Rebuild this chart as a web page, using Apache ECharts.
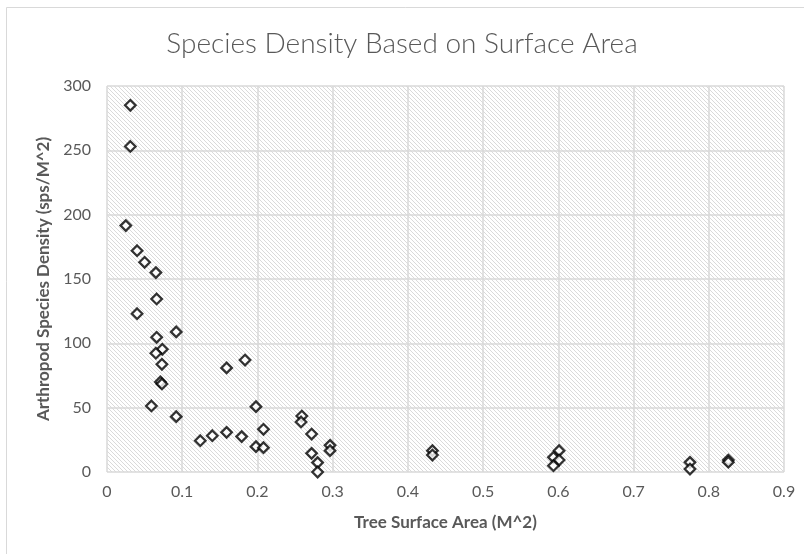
<!DOCTYPE html>
<html>
<head>
<meta charset="utf-8">
<script src="https://cdn.jsdelivr.net/npm/echarts@6/dist/echarts.min.js"></script>
<style>html,body{margin:0;padding:0;background:#fff;}#c{width:804px;height:554px;}</style>
</head>
<body>
<div id="c"></div>
<script>
const titleText = 'Species Density Based on Surface Area';
const xAxisName = 'Tree Surface Area (M^2)';
const yAxisName = 'Arthropod Species Density (sps/M^2)';
const surfaceArea = [0.031,0.031,0.025,0.040,0.050,0.065,0.066,0.040,0.066,0.092,0.0735,0.065,0.073,0.071,0.073,0.059,0.092,0.124,0.140,0.159,0.159,0.1835,0.179,0.198,0.208,0.198,0.208,0.259,0.258,0.272,0.272,0.280,0.280,0.2965,0.2965,0.4326,0.4326,0.601,0.5935,0.601,0.5935,0.775,0.775,0.826,0.826];
const speciesDensity = [285,253,191.5,172,163,155,134.5,123,104.7,108.9,95.4,92.3,83.7,70,68.4,51.3,43,24.3,28.2,30.8,80.9,87,27.5,50.8,33.2,19.7,18.9,43.5,38.9,29.5,14.5,7.3,0,20.7,16.6,16.6,13.2,16.6,11.4,9.3,4.9,7.5,2.3,9.3,7.6];

const pts = surfaceArea.map((x,i)=>[x, speciesDensity[i]]);

const pc = document.createElement('canvas');
pc.width = 4; pc.height = 4;
const pctx = pc.getContext('2d');
pctx.fillStyle = '#ffffff'; pctx.fillRect(0,0,4,4);
pctx.fillStyle = '#dadada';
for (let i=0;i<4;i++) pctx.fillRect(i,i,1,1);

const chart = echarts.init(document.getElementById('c'), null, {renderer:'canvas'});
chart.setOption({
  animation:false,
  backgroundColor:'#ffffff',
  graphic:[{type:'rect', shape:{x:6.5,y:7.5,width:900,height:700}, style:{fill:'none', stroke:'#d9d9d9', lineWidth:1}, z:-10}],
  title:{text:titleText, left:'center', top:25, textStyle:{fontFamily:'Lato', fontWeight:300, fontSize:28, color:'#595959'}},
  grid:{left:107, right:20, top:86, bottom:82, show:true, backgroundColor:{image:pc, repeat:'repeat'}, borderWidth:0},
  xAxis:{type:'value', min:0, max:0.9, interval:0.1,
    name:xAxisName, nameLocation:'middle', nameGap:42,
    nameTextStyle:{fontFamily:'Lato', fontWeight:'bold', fontSize:17, color:'#595959'},
    axisLine:{show:false}, axisTick:{show:false},
    axisLabel:{fontFamily:'Lato', fontSize:16, color:'#595959', margin:12},
    splitLine:{show:true, lineStyle:{color:'#d9d9d9', width:1.5}}},
  yAxis:{type:'value', min:0, max:300, interval:50,
    name:yAxisName, nameLocation:'middle', nameGap:51,
    nameTextStyle:{fontFamily:'Lato', fontWeight:'bold', fontSize:17, color:'#595959'},
    axisLine:{show:false}, axisTick:{show:false},
    axisLabel:{fontFamily:'Lato', fontSize:16, color:'#595959', margin:16},
    splitLine:{show:true, lineStyle:{color:'#d9d9d9', width:1.5}}},
  series:[{type:'scatter', data:pts, symbol:'diamond', symbolSize:[10.5,10.5],
    itemStyle:{color:'#ffffff', borderColor:'#000000', borderWidth:2.3}}]
});
</script>
</body>
</html>
